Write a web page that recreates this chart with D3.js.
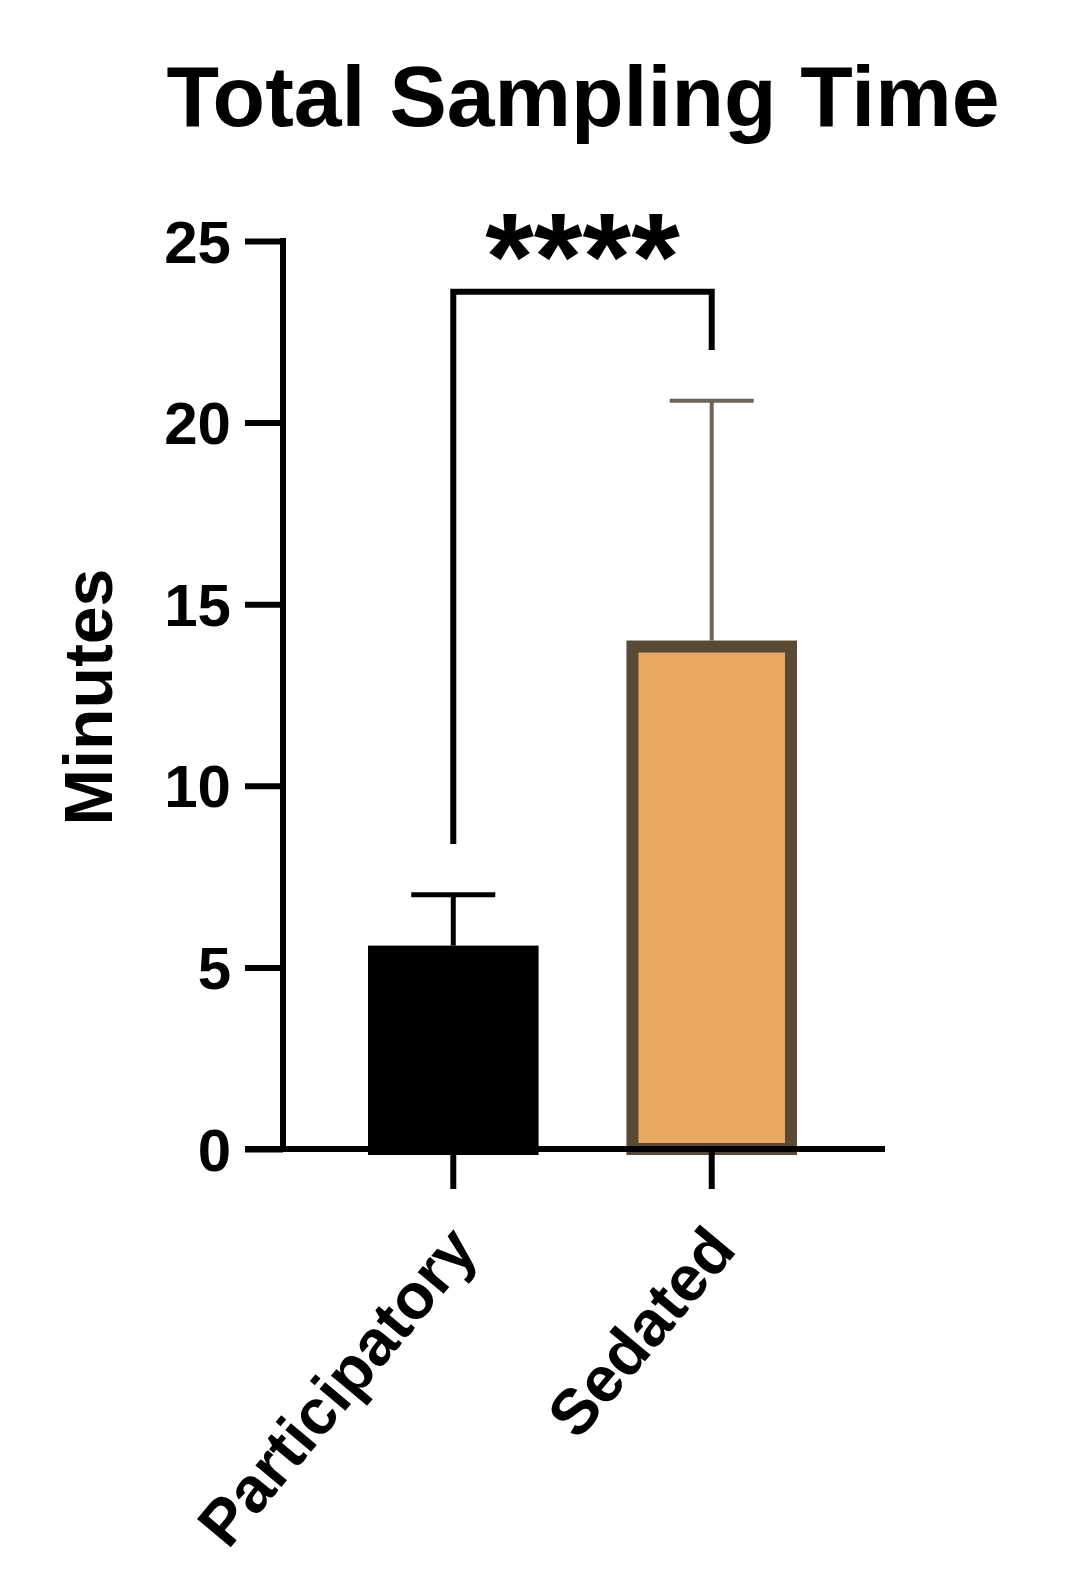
<!DOCTYPE html>
<html><head><meta charset="utf-8">
<script src="https://cdn.jsdelivr.net/npm/d3@7"></script>
<style>body{margin:0;background:#fff}</style>
</head><body>
<script>
// data
var categories = ["Participatory", "Sedated"];
var means = [5.6, 14.0];
var errTop = [7.0, 20.6];
var yTicks = [0, 5, 10, 15, 20, 25];
var sig = {label: "****", top: 23.6, leftEnd: 8.4, rightEnd: 22.0};

var W = 1065, H = 1571;
var svg = d3.select("body").append("svg").attr("width", W).attr("height", H)
  .style("font-family", "Liberation Sans, Arial, sans-serif");

var y = d3.scaleLinear().domain([0, 25]).range([1149, 241]);
var x = d3.scaleBand().domain(categories).range([368, 797]).paddingInner(0.34).paddingOuter(0);

svg.append("text").attr("x", 583).attr("y", 126).attr("text-anchor", "middle")
  .style("font-size", "86px").style("font-weight", "bold").text("Total Sampling Time");

// y axis
var ya = svg.append("g").attr("transform", "translate(283,0)")
  .call(d3.axisLeft(y).tickValues(yTicks).tickSize(38).tickPadding(14));
ya.select(".domain").remove();
ya.selectAll(".tick line").attr("stroke", "#000").attr("stroke-width", 6);
ya.selectAll(".tick text").style("font-size", "60px").style("font-weight", "bold").attr("dy", "0.35em");
svg.append("line").attr("x1", 283).attr("x2", 283).attr("y1", 238).attr("y2", 1152)
  .attr("stroke", "#000").attr("stroke-width", 6);

svg.append("text").attr("transform", "translate(112,697) rotate(-90)").attr("text-anchor", "middle")
  .style("font-size", "68px").style("font-weight", "bold").text("Minutes");

// error bars (behind bars)
var errColor = ["#000", "#6e6357"];
categories.forEach(function(c, i){
  var cx = x(c) + x.bandwidth()/2;
  var g = svg.append("g").attr("stroke", errColor[i]).attr("stroke-width", i ? 4 : 5);
  g.append("line").attr("x1", cx).attr("x2", cx).attr("y1", y(means[i])).attr("y2", y(errTop[i]));
  g.append("line").attr("x1", cx-42).attr("x2", cx+42).attr("y1", y(errTop[i])).attr("y2", y(errTop[i]));
});

// bars
var fills = ["#000", "#E8A862"], strokes = ["#000", "#5a4a35"];
svg.selectAll("rect.bar").data(categories).enter().append("rect")
  .attr("x", function(d){return x(d)+6;}).attr("width", x.bandwidth()-12)
  .attr("y", function(d,i){return y(means[i])+6;})
  .attr("height", function(d,i){return y(0)-y(means[i])-6;})
  .attr("fill", function(d,i){return fills[i];})
  .attr("stroke", function(d,i){return strokes[i];}).attr("stroke-width", 12);

// x axis
svg.append("line").attr("x1", 245).attr("x2", 885).attr("y1", y(0)).attr("y2", y(0))
  .attr("stroke", "#000").attr("stroke-width", 6);
categories.forEach(function(c){
  var cx = x(c) + x.bandwidth()/2;
  svg.append("line").attr("x1", cx).attr("x2", cx).attr("y1", y(0)).attr("y2", 1189)
    .attr("stroke", "#000").attr("stroke-width", 6);
  svg.append("text").attr("transform", "translate(" + (cx-8) + ",1222) rotate(-50)")
    .attr("text-anchor", "end").attr("dy", "0.7em")
    .style("font-size", "64px").style("font-weight", "bold").text(c);
});

// significance bracket
var x1 = x(categories[0]) + x.bandwidth()/2, x2 = x(categories[1]) + x.bandwidth()/2;
svg.append("path").attr("fill", "none").attr("stroke", "#000").attr("stroke-width", 6)
  .attr("d", "M" + x1 + "," + y(sig.leftEnd) + "V" + y(sig.top) + "H" + x2 + "V" + y(sig.rightEnd));
svg.append("text").attr("x", (x1+x2)/2).attr("y", 300).attr("text-anchor", "middle")
  .style("font-size", "125px").style("font-weight", "bold").text(sig.label);
</script>
</body></html>
